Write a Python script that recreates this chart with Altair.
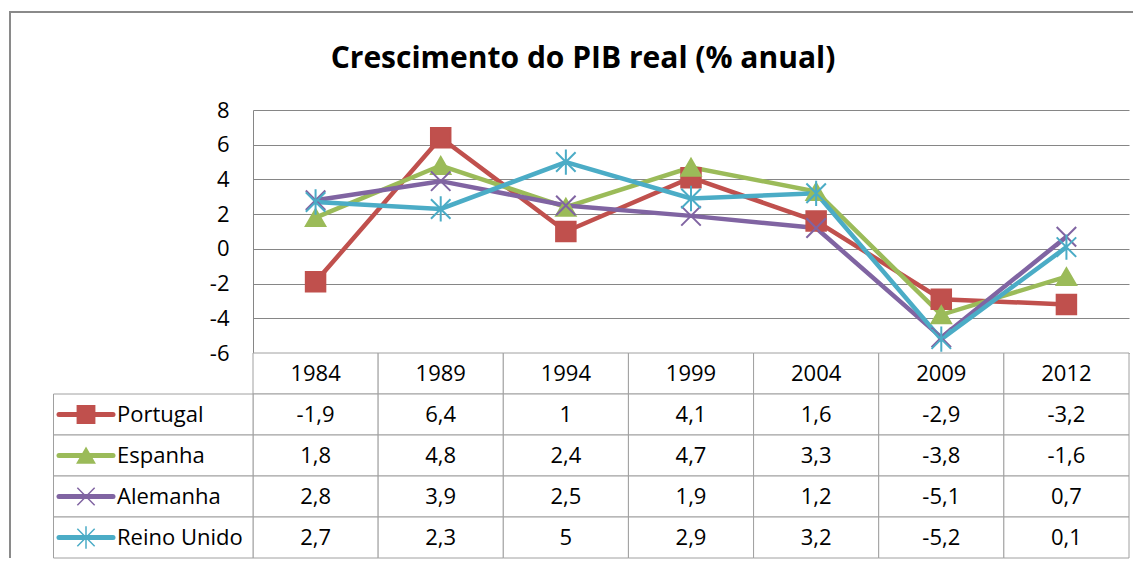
import altair as alt
import pandas as pd

# ---------------- data ----------------
years = ["1984", "1989", "1994", "1999", "2004", "2009", "2012"]
countries = ["Portugal", "Espanha", "Alemanha", "Reino Unido"]
portugal = [-1.9, 6.4, 1, 4.1, 1.6, -2.9, -3.2]
espanha = [1.8, 4.8, 2.4, 4.7, 3.3, -3.8, -1.6]
alemanha = [2.8, 3.9, 2.5, 1.9, 1.2, -5.1, 0.7]
reino_unido = [2.7, 2.3, 5, 2.9, 3.2, -5.2, 0.1]
y_ticks = [-6, -4, -2, 0, 2, 4, 6, 8]
title_text = "Crescimento do PIB real (% anual)"

# ---------------- styles ----------------
colors = ["#C0504D", "#9BBB59", "#8064A2", "#4BACC6"]
shapes = ["square", "triangle-up",
          "M-1,-1L1,1M-1,1L1,-1",
          "M-1,-1L1,1M-1,1L1,-1M0,-1.3L0,1.3"]
FONT = "Open Sans"
GRID = "#868686"
TBL = "#A0A0A0"
FS = 22

series = [portugal, espanha, alemanha, reino_unido]


def fmt(v):
    return f"{v:g}".replace(".", ",")


rows = []
for c, vals in zip(countries, series):
    for yr, v in zip(years, vals):
        rows.append({"year": yr, "country": c, "row": c, "value": v, "label": fmt(v)})
df = pd.DataFrame(rows)

hdr = pd.DataFrame({"year": years, "row": "hdr", "label": years})
cells = pd.concat([hdr, df[["year", "row", "label"]]], ignore_index=True)
legend_df = pd.DataFrame({"row": countries, "country": countries})
row_domain = ["hdr"] + countries

color_scale = alt.Scale(domain=countries, range=colors)
shape_scale = alt.Scale(domain=countries, range=shapes)
x_enc = alt.X("year:N", sort=years,
              scale=alt.Scale(domain=years, paddingInner=0, paddingOuter=0),
              axis=None)

# ---------------- top: line chart ----------------
y_enc = alt.Y("value:Q", scale=alt.Scale(domain=[-6, 8], nice=False, zero=False),
              axis=alt.Axis(values=y_ticks, title=None, ticks=False,
                            domainColor=GRID, gridColor=GRID, gridWidth=1,
                            labelFont=FONT, labelFontSize=FS, labelColor="#000",
                            labelPadding=24, labelOverlap=False, labelFlush=False,
                            labelBound=False, labelExpr="'' + datum.value"))

lines = alt.Chart(df).mark_line(strokeWidth=4.5).encode(
    x=x_enc, y=y_enc,
    color=alt.Color("country:N", scale=color_scale, legend=None),
    order=alt.Order("year:N"),
)
points = alt.Chart(df).mark_point(filled=True, size=380, strokeWidth=2, opacity=1).encode(
    x=x_enc, y=y_enc,
    fill=alt.Fill("country:N", scale=color_scale, legend=None),
    stroke=alt.Stroke("country:N", scale=color_scale, legend=None),
    shape=alt.Shape("country:N", scale=shape_scale, legend=None),
)

top = alt.layer(lines, points).properties(
    width=876, height=243,
    title=alt.TitleParams(title_text, font=FONT, fontSize=30, fontWeight="bold",
                          color="#000", anchor="middle", dx=-108, offset=25),
)

# ---------------- bottom: data table ----------------
y_row = alt.Y("row:N", sort=row_domain,
              scale=alt.Scale(domain=row_domain, paddingInner=0, paddingOuter=0),
              axis=None)

one = pd.DataFrame({"k": [0]})
frame_top = alt.Chart(one).mark_rule(color="#8a8a8a", strokeWidth=2).encode(
    x=alt.value(-244), x2=alt.value(880), y=alt.value(-341))
frame_left = alt.Chart(one).mark_rule(color="#8a8a8a", strokeWidth=2).encode(
    x=alt.value(-243), y=alt.value(-342), y2=alt.value(205))

cell_rects = alt.Chart(cells).mark_rect(fill="#ffffff", stroke=TBL, strokeWidth=1).encode(
    x=x_enc, y=y_row)
cell_text = alt.Chart(cells).mark_text(font=FONT, fontSize=FS, color="#000").encode(
    x=x_enc, y=y_row, text="label:N")

leg_rects = alt.Chart(legend_df).mark_rect(fill="#ffffff", stroke=TBL, strokeWidth=1).encode(
    x=alt.value(-199.5), x2=alt.value(0), y=y_row)
leg_lines = alt.Chart(legend_df).mark_rule(strokeWidth=5, strokeCap="round").encode(
    x=alt.value(-194), x2=alt.value(-140), y=y_row,
    color=alt.Color("country:N", scale=color_scale, legend=None))
leg_pts = alt.Chart(legend_df).mark_point(filled=True, size=300, strokeWidth=1.5, opacity=1).encode(
    x=alt.value(-167), y=y_row,
    fill=alt.Fill("country:N", scale=color_scale, legend=None),
    stroke=alt.Stroke("country:N", scale=color_scale, legend=None),
    shape=alt.Shape("country:N", scale=shape_scale, legend=None))
leg_text = alt.Chart(legend_df).mark_text(font=FONT, fontSize=FS, color="#000", align="left").encode(
    x=alt.value(-136), y=y_row, text="country:N")

bottom = alt.layer(frame_top, frame_left, cell_rects, cell_text,
                   leg_rects, leg_lines, leg_pts, leg_text).properties(
    width=876, height=205)

chart = alt.vconcat(top, bottom, spacing=0, bounds="flush").configure_view(
    stroke=None).properties(
    padding={"left": 0, "top": 2, "right": 0, "bottom": 0},
    background="#ffffff")

chart.save("out.html", embed_options={"renderer": "svg", "actions": False})
